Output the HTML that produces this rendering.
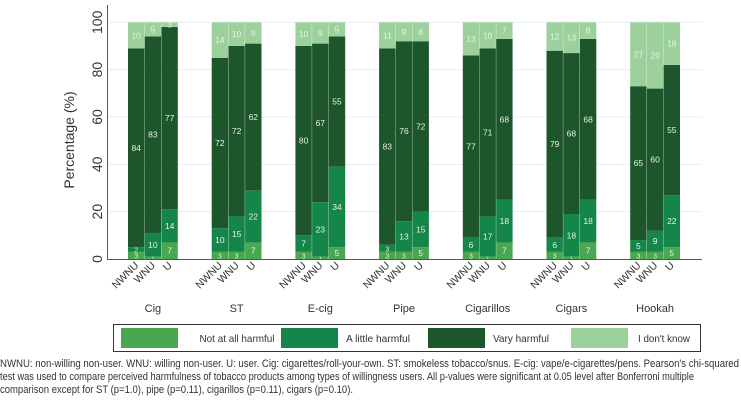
<!DOCTYPE html>
<html><head><meta charset="utf-8"><style>
body{margin:0;background:#fff;}
svg{display:block;font-family:"Liberation Sans",sans-serif;}
</style></head><body>
<svg id="chart" width="741" height="405" viewBox="0 0 741 405"></svg>
<script>
const products = ["Cig","ST","E-cig","Pipe","Cigarillos","Cigars","Hookah"];
const groups = ["NWNU","WNU","U"];
const seriesNames = ["Not at all harmful","A little harmful","Vary harmful","I don't know"];
const notHarmful = [[3,1,7],[3,3,7],[3,1,5],[3,3,5],[3,1,7],[3,1,7],[3,3,5]];
const littleHarmful = [[2,10,14],[10,15,22],[7,23,34],[3,13,15],[6,17,18],[6,18,18],[5,9,22]];
const veryHarmful = [[84,83,77],[72,72,62],[80,67,55],[83,76,72],[77,71,68],[79,68,68],[65,60,55]];
const dontKnow = [[10,5,3],[14,10,9],[10,9,5],[11,9,8],[13,10,7],[12,13,8],[27,29,18]];
const yTicks = [0,20,40,60,80,100];
const colors = ["#4aa64f","#15864a","#1d562b","#9dd19c"];

const svg = document.getElementById('chart');
const NS = "http://www.w3.org/2000/svg";
function mk(tag, attrs, parent){const e=document.createElementNS(NS,tag);for(const k in attrs)e.setAttribute(k,attrs[k]);(parent||svg).appendChild(e);return e;}
const y0=259, y100=22.3;
function yScale(v){return y0-(y0-y100)*v/100;}
const groupStart=128, groupPitch=83.7, barW=16.4, barGap=0.3;
function xBar(p,g){return groupStart+p*groupPitch+g*(barW+barGap);}

yTicks.forEach(t=>{
  if(t>0){const gl=mk('line',{x1:108,x2:702,y1:yScale(t),y2:yScale(t),stroke:'#e6edf5','stroke-width':1});
  
  }
  const tl=mk('text',{x:97,y:yScale(t),'font-size':14,fill:'#333','text-anchor':'middle',transform:`rotate(-90 97 ${yScale(t)})`,'dominant-baseline':'central'});
  tl.textContent=t;
  
  
});
const yt=mk('text',{x:74,y:140,'font-size':14,fill:'#333','text-anchor':'middle',transform:'rotate(-90 74 140)'});
yt.textContent="Percentage (%)";



const series=[notHarmful,littleHarmful,veryHarmful,dontKnow];
products.forEach((prod,p)=>{
  groups.forEach((grp,g)=>{
    let cum=0;const x=xBar(p,g);
    series.forEach((s,si)=>{
      const v=s[p][g];
      const top = si===3 ? 100 : Math.min(cum+v,100);
      const r=mk('rect',{x:x,y:yScale(top),width:barW,height:yScale(cum)-yScale(top),fill:colors[si]});
      
      
      const lbl=mk('text',{x:x+barW/2,y:(yScale(cum)+yScale(top))/2+3,'font-size':si<2&&v<5?7:8.5,fill:'#e8f0e8','text-anchor':'middle'});
      lbl.textContent=v;
      
      
      cum+=v;
    });
    const tx=x+barW/2+3, ty=266;
    const t=mk('text',{x:tx,y:ty,'font-size':10.5,fill:'#333','text-anchor':'end',transform:`rotate(-45 ${tx} ${ty})`});
    t.textContent=grp;
    
    
  });
  const cl=mk('text',{x:xBar(p,1)+barW/2,y:312,'font-size':11,fill:'#333','text-anchor':'middle'});
  cl.textContent=prod;
  
  
});
const ya=mk('line',{x1:107.5,x2:107.5,y1:5,y2:259.5,stroke:'#555','stroke-width':1});


const xa=mk('line',{x1:107,x2:702,y1:259.5,y2:259.5,stroke:'#555','stroke-width':1});



const lg=mk('g',{});


mk('rect',{x:113.5,y:324.5,width:587,height:27,fill:'#fff',stroke:'#333','stroke-width':1},lg);
const swX=[121,281,428,571], txX=[237,378,521,664], txW=[75,64,56,52];
seriesNames.forEach((n,i)=>{
  const e=mk('g',{},lg);
  
  
  mk('rect',{x:swX[i],y:328,width:57,height:20,fill:colors[i]},e);
  const t=mk('text',{x:txX[i]-txW[i]/2,y:342,'font-size':10.5,fill:'#333',textLength:txW[i],lengthAdjust:'spacingAndGlyphs'},e);
  t.textContent=n;
});

const notes=["NWNU: non-willing non-user. WNU: willing non-user. U: user. Cig: cigarettes/roll-your-own. ST: smokeless tobacco/snus. E-cig: vape/e-cigarettes/pens. Pearson's chi-squared",
"test was used to compare perceived harmfulness of tobacco products among types of willingness users. All p-values were significant at 0.05 level after Bonferroni multiple",
"comparison except for ST (p=1.0), pipe (p=0.11), cigarillos (p=0.11), cigars (p=0.10)."];
const lens=[739,694,353];
notes.forEach((n,i)=>{
  const t=mk('text',{x:0,y:367+i*13,'font-size':11,fill:'#333',textLength:lens[i],lengthAdjust:'spacingAndGlyphs'});
  t.textContent=n;
  
  
});
</script>
</body></html>
